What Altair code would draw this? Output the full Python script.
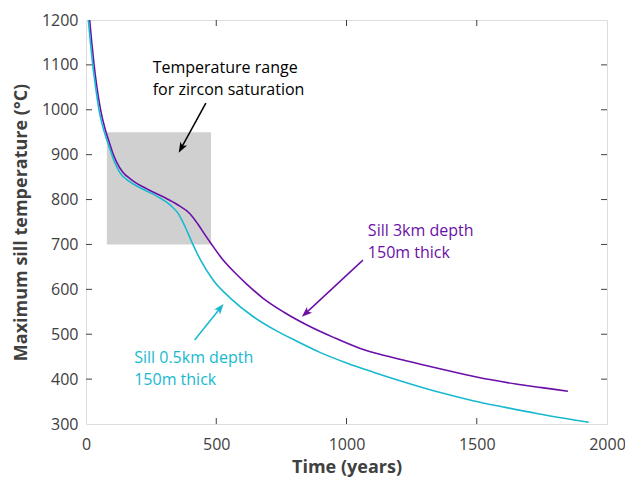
import altair as alt
import pandas as pd

# Sill 3km depth (purple)
t_3km = [14, 22, 31, 42, 56, 72, 88, 103, 118, 140, 175, 240, 300, 350, 400, 430, 455, 480, 520, 570,
         620, 680, 760, 850, 950, 1050, 1150, 1250, 1350, 1450, 1550, 1650, 1750, 1850]
T_3km = [1200, 1150, 1100, 1050, 1000, 960, 930, 903, 883, 862, 844, 822, 805, 789, 768, 745, 723, 702, 670, 638,
         610, 580, 549, 520, 493, 469, 452, 438, 424, 411, 399, 389, 381, 373]

# Sill 0.5km depth (cyan)
t_05km = [9, 17, 26, 37, 50, 64, 80, 95, 110, 130, 165, 215, 280, 325, 355, 380, 405, 440, 490, 555,
          640, 730, 800, 900, 1000, 1100, 1230, 1360, 1485, 1610, 1735, 1930]
T_05km = [1200, 1150, 1100, 1050, 1000, 963, 933, 907, 883, 860, 841, 824, 805, 787, 768, 740, 707, 665, 619, 580,
          540, 508, 487, 459, 436, 416, 392, 370, 352, 337, 323, 304]

# zircon saturation box
box_t = [80, 480]
box_T = [700, 950]

x_ticks = [0, 500, 1000, 1500, 2000]
y_ticks = [300, 400, 500, 600, 700, 800, 900, 1000, 1100, 1200]

# annotations
ann_text = ["Temperature range", "for zircon saturation", "Sill 3km depth", "150m thick",
            "Sill 0.5km depth", "150m thick"]
ann_t = [256, 256, 1082, 1082, 185, 185]
ann_T = [1093, 1044, 730, 681, 447, 398]
ann_grp = ["k", "k", "p", "p", "c", "c"]

arr_grp = ["k", "p", "c"]
arr_t0 = [460, 1063, 417]
arr_T0 = [1015, 665, 487]
arr_t1 = [366, 844, 515]
arr_T1 = [915, 547, 558]
arr_angle = [209, 228, 39]

PURPLE = "#6B0FA8"
CYAN = "#17B9CF"
GREY = "#404040"
FONT = "Open Sans"

W, H = 521, 404

xs = alt.Scale(domain=[0, 2000], nice=False)
ys = alt.Scale(domain=[300, 1200], nice=False)
col = alt.Scale(domain=["k", "p", "c"], range=["#000000", PURPLE, CYAN])

df_lines = pd.concat([
    pd.DataFrame({"t": t_3km, "T": T_3km, "s": "p"}),
    pd.DataFrame({"t": t_05km, "T": T_05km, "s": "c"}),
])

box = alt.Chart(pd.DataFrame({"t0": [box_t[0]], "t1": [box_t[1]], "T0": [box_T[0]], "T1": [box_T[1]]})).mark_rect(
    color="#D0D0D0").encode(
    x=alt.X("t0:Q", scale=xs,
            axis=alt.Axis(values=x_ticks, title="Time (years)", ticks=False, domain=False, grid=False,
                          labelFontSize=16, labelColor=GREY, labelFont=FONT, labelPadding=12,
                          labelFlush=False, labelOverlap=False,
                          titleFontSize=18, titleFont=FONT, titleFontWeight="bold", titleColor=GREY,
                          titlePadding=6, format="d")),
    x2="t1:Q",
    y=alt.Y("T0:Q", scale=ys,
            axis=alt.Axis(values=y_ticks, title="Maximum sill temperature (°C)", ticks=False, domain=False,
                          grid=False, labelFontSize=16, labelColor=GREY, labelFont=FONT, labelPadding=8,
                          labelFlush=False, labelOverlap=False,
                          titleFontSize=18, titleFont=FONT, titleFontWeight="bold", titleColor=GREY,
                          titlePadding=11, format="d")),
    y2="T1:Q",
)

lines = alt.Chart(df_lines).mark_line(strokeWidth=1.6, interpolate="monotone", clip=True).encode(
    x=alt.X("t:Q", scale=xs),
    y=alt.Y("T:Q", scale=ys),
    color=alt.Color("s:N", scale=col, legend=None),
    detail="s:N",
)

df_ann = pd.DataFrame({"text": ann_text, "t": ann_t, "T": ann_T, "g": ann_grp})
texts = alt.Chart(df_ann).mark_text(align="left", baseline="middle", fontSize=16, font=FONT).encode(
    x=alt.X("t:Q", scale=xs), y=alt.Y("T:Q", scale=ys), text="text:N",
    color=alt.Color("g:N", scale=col, legend=None),
)

df_arr = pd.DataFrame({"g": arr_grp, "t0": arr_t0, "T0": arr_T0, "t1": arr_t1, "T1": arr_T1, "a": arr_angle})
arr_lines = alt.Chart(df_arr).mark_rule(strokeWidth=1.5).encode(
    x=alt.X("t0:Q", scale=xs), y=alt.Y("T0:Q", scale=ys), x2="t1:Q", y2="T1:Q",
    color=alt.Color("g:N", scale=col, legend=None),
)
arr_heads = alt.Chart(df_arr).mark_point(
    shape="M0,-1L0.7,0.9L0,0.45L-0.7,0.9Z", filled=True, opacity=1, size=120).encode(
    x=alt.X("t1:Q", scale=xs), y=alt.Y("T1:Q", scale=ys),
    angle=alt.Angle("a:Q", scale=None),
    color=alt.Color("g:N", scale=col, legend=None),
)

# inward ticks (box style)
df_xt = pd.DataFrame({"v": x_ticks[1:-1]})
df_yt = pd.DataFrame({"v": y_ticks[1:-1]})
tk = dict(color=GREY, strokeWidth=1)
xt_bot = alt.Chart(df_xt).mark_rule(**tk).encode(x=alt.X("v:Q", scale=xs), y=alt.value(H), y2=alt.value(H - 6))
xt_top = alt.Chart(df_xt).mark_rule(**tk).encode(x=alt.X("v:Q", scale=xs), y=alt.value(0), y2=alt.value(6))
yt_left = alt.Chart(df_yt).mark_rule(**tk).encode(y=alt.Y("v:Q", scale=ys), x=alt.value(0), x2=alt.value(6))
yt_right = alt.Chart(df_yt).mark_rule(**tk).encode(y=alt.Y("v:Q", scale=ys), x=alt.value(W), x2=alt.value(W - 6))

chart = alt.layer(box, lines, arr_lines, arr_heads, texts, xt_bot, xt_top, yt_left, yt_right).properties(
    width=W, height=H,
    autosize=alt.AutoSizeParams(type="none"),
    padding={"left": 78, "top": 12, "right": 18, "bottom": 56},
).configure_view(stroke=GREY, strokeWidth=1.2).configure(background="white")

chart.save("out.html", embed_options={"renderer": "svg", "actions": False})
